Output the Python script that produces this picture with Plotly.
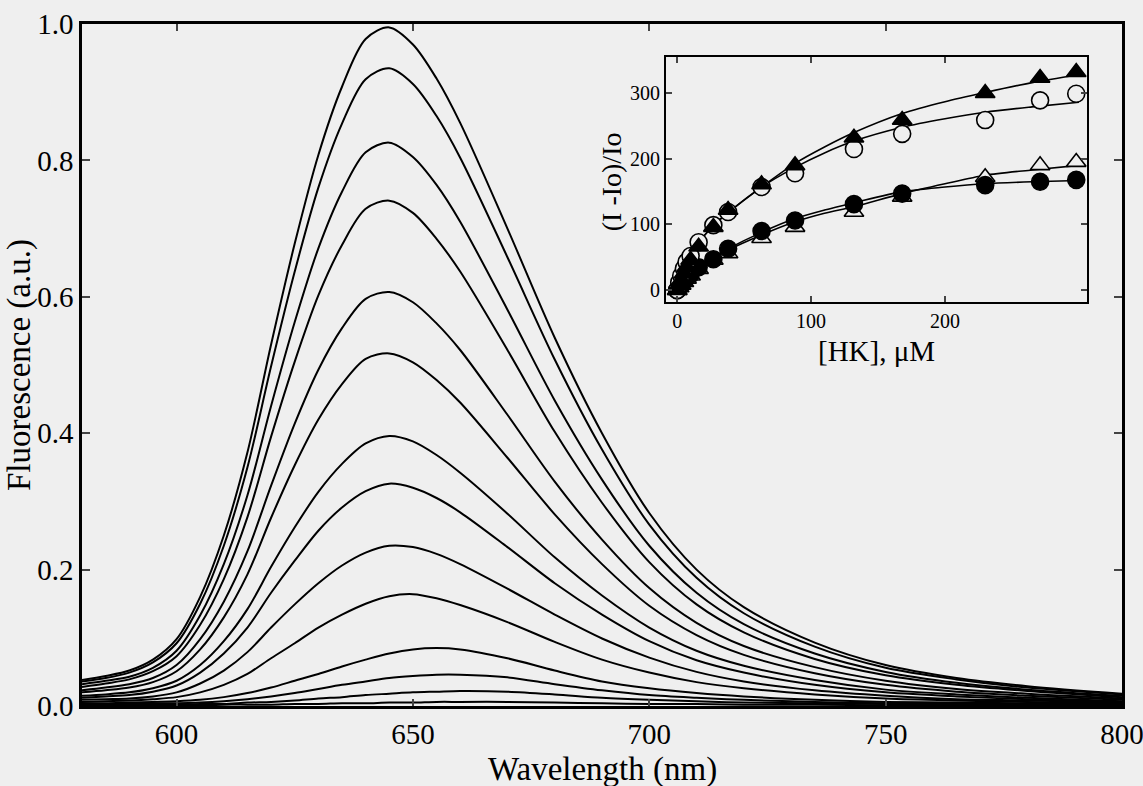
import plotly.graph_objects as go

# ---------------- main panel data: emission spectra ----------------
wavelength = [580, 585, 590, 595, 600, 605, 610, 615, 620, 625, 630, 635, 640, 645,
              650, 655, 660, 670, 680, 690, 700, 710, 720, 735, 750, 765, 780, 800]

spec_01 = [0.038, 0.044, 0.052, 0.068, 0.098, 0.160, 0.250, 0.372, 0.530, 0.678, 0.808, 0.908, 0.978, 0.995,
           0.970, 0.920, 0.855, 0.700, 0.540, 0.400, 0.283, 0.200, 0.145, 0.093, 0.060, 0.041, 0.029, 0.018]
spec_02 = [0.036, 0.041, 0.049, 0.064, 0.092, 0.150, 0.235, 0.350, 0.498, 0.637, 0.760, 0.854, 0.919, 0.935,
           0.912, 0.865, 0.804, 0.658, 0.508, 0.376, 0.266, 0.188, 0.136, 0.087, 0.056, 0.039, 0.027, 0.017]
spec_03 = [0.032, 0.037, 0.043, 0.056, 0.081, 0.133, 0.208, 0.309, 0.440, 0.563, 0.671, 0.754, 0.812, 0.826,
           0.805, 0.764, 0.710, 0.581, 0.448, 0.332, 0.235, 0.166, 0.120, 0.077, 0.050, 0.034, 0.024, 0.015]
spec_04 = [0.028, 0.033, 0.039, 0.051, 0.073, 0.119, 0.186, 0.277, 0.395, 0.505, 0.602, 0.676, 0.729, 0.741,
           0.723, 0.685, 0.637, 0.522, 0.402, 0.298, 0.211, 0.149, 0.108, 0.069, 0.045, 0.031, 0.022, 0.013]
spec_05 = [0.023, 0.027, 0.032, 0.041, 0.060, 0.098, 0.153, 0.227, 0.323, 0.414, 0.493, 0.554, 0.597, 0.607,
           0.592, 0.561, 0.522, 0.427, 0.329, 0.244, 0.173, 0.122, 0.088, 0.057, 0.037, 0.025, 0.018, 0.011]
spec_06 = [0.020, 0.023, 0.027, 0.035, 0.051, 0.083, 0.130, 0.193, 0.276, 0.353, 0.420, 0.472, 0.509, 0.517,
           0.504, 0.478, 0.445, 0.364, 0.281, 0.208, 0.147, 0.104, 0.075, 0.048, 0.031, 0.021, 0.015, 0.009]
spec_07 = [0.015, 0.017, 0.020, 0.026, 0.037, 0.060, 0.095, 0.142, 0.204, 0.262, 0.314, 0.355, 0.385, 0.396,
           0.388, 0.368, 0.342, 0.282, 0.218, 0.162, 0.115, 0.081, 0.059, 0.038, 0.024, 0.017, 0.012, 0.007]
spec_08 = [0.012, 0.014, 0.016, 0.021, 0.030, 0.049, 0.077, 0.115, 0.166, 0.213, 0.257, 0.291, 0.315, 0.326,
           0.320, 0.305, 0.284, 0.233, 0.180, 0.134, 0.095, 0.067, 0.049, 0.031, 0.020, 0.014, 0.010, 0.006]
spec_09 = [0.009, 0.010, 0.011, 0.014, 0.020, 0.033, 0.052, 0.079, 0.115, 0.149, 0.180, 0.206, 0.225, 0.235,
           0.233, 0.223, 0.208, 0.172, 0.134, 0.099, 0.071, 0.050, 0.036, 0.023, 0.015, 0.010, 0.008, 0.005]
spec_10 = [0.006, 0.007, 0.008, 0.010, 0.013, 0.020, 0.031, 0.047, 0.070, 0.092, 0.115, 0.134, 0.150, 0.161,
           0.164, 0.158, 0.148, 0.123, 0.094, 0.068, 0.049, 0.035, 0.026, 0.017, 0.011, 0.008, 0.006, 0.004]
spec_11 = [0.004, 0.004, 0.005, 0.006, 0.007, 0.009, 0.013, 0.019, 0.027, 0.037, 0.047, 0.058, 0.068, 0.077,
           0.083, 0.085, 0.083, 0.070, 0.052, 0.036, 0.026, 0.019, 0.014, 0.009, 0.006, 0.005, 0.004, 0.003]
spec_12 = [0.003, 0.003, 0.003, 0.004, 0.004, 0.005, 0.007, 0.010, 0.014, 0.019, 0.025, 0.031, 0.036, 0.041,
           0.044, 0.046, 0.046, 0.042, 0.032, 0.023, 0.016, 0.012, 0.009, 0.006, 0.004, 0.003, 0.003, 0.002]
spec_13 = [0.002, 0.002, 0.002, 0.002, 0.002, 0.003, 0.003, 0.005, 0.006, 0.008, 0.011, 0.013, 0.016, 0.018,
           0.020, 0.021, 0.022, 0.021, 0.017, 0.012, 0.009, 0.007, 0.005, 0.004, 0.003, 0.002, 0.002, 0.002]
spec_14 = [0.001, 0.001, 0.001, 0.001, 0.001, 0.001, 0.002, 0.002, 0.002, 0.003, 0.003, 0.004, 0.004, 0.005,
           0.005, 0.006, 0.006, 0.006, 0.005, 0.004, 0.003, 0.003, 0.002, 0.002, 0.001, 0.001, 0.001, 0.001]

spectra = [spec_01, spec_02, spec_03, spec_04, spec_05, spec_06, spec_07,
           spec_08, spec_09, spec_10, spec_11, spec_12, spec_13, spec_14]

main_xticks = [600, 650, 700, 750, 800]
main_yticks = [0.0, 0.2, 0.4, 0.6, 0.8, 1.0]
main_yticktext = ["0.0", "0.2", "0.4", "0.6", "0.8", "1.0"]

# ---------------- inset data: titration ----------------
hk_conc = [0, 1.5, 3, 5, 7, 10, 16, 27, 38, 63, 88, 132, 168, 230, 271, 298]
filled_tri = [0, 8, 15, 25, 35, 46, 66, 96, 122, 161, 190, 232, 259, 300, 323, 332]
open_circ = [0, 12, 22, 33, 43, 52, 73, 99, 119, 157, 178, 215, 238, 259, 289, 299]
open_tri = [0, 4, 8, 12, 17, 22, 32, 46, 56, 79, 96, 119, 142, 172, 190, 195]
filled_circ = [0, 5, 9, 14, 19, 24, 35, 47, 63, 90, 106, 131, 147, 160, 165, 168]

fit_x = [0, 5, 10, 16, 27, 38, 63, 88, 110, 132, 168, 200, 230, 265, 300]
fit_filled_tri = [0, 30, 50, 72, 98, 118, 157, 193, 218, 240, 269, 287, 301, 316, 328]
fit_open_circ = [0, 30, 50, 72, 98, 118, 157, 187, 209, 227, 248, 261, 271, 279, 286]
fit_open_tri = [0, 12, 22, 33, 48, 61, 84, 104, 117, 127, 147, 162, 175, 183, 190]
fit_filled_circ = [0, 13, 24, 35, 50, 63, 88, 109, 122, 133, 150, 157, 162, 165, 167]

inset_xticks = [0, 100, 200]
inset_yticks = [0, 100, 200, 300]

FONT = "Liberation Serif"
BG = "#efefef"

fig = go.Figure()

for s in spectra:
    fig.add_trace(go.Scatter(x=wavelength, y=s, mode="lines",
                             line=dict(color="black", width=2, shape="spline", smoothing=0.9),
                             xaxis="x", yaxis="y", showlegend=False, hoverinfo="skip"))

for fy in [fit_filled_tri, fit_open_circ, fit_open_tri, fit_filled_circ]:
    fig.add_trace(go.Scatter(x=fit_x, y=fy, mode="lines",
                             line=dict(color="black", width=1.6, shape="spline", smoothing=0.8),
                             xaxis="x3", yaxis="y3", showlegend=False))

marker_specs = [
    (open_tri, "triangle-up", BG),
    (filled_circ, "circle", "black"),
    (open_circ, "circle", BG),
    (filled_tri, "triangle-up", "black"),
]
for vals, sym, fill in marker_specs:
    fig.add_trace(go.Scatter(x=hk_conc, y=vals, mode="markers",
                             marker=dict(symbol=sym, size=17, color=fill,
                                         line=dict(color="black", width=1.6)),
                             xaxis="x3", yaxis="y3", showlegend=False))

tickfont_main = dict(family=FONT, size=29, color="black")
tickfont_inset = dict(family=FONT, size=20, color="black")

common = dict(showgrid=False, zeroline=False, automargin=False, showline=True,
              linecolor="black", ticklabeloverflow="allow")

fig.update_layout(
    width=1143, height=786,
    margin=dict(l=82, r=21, t=24, b=80),
    paper_bgcolor=BG, plot_bgcolor=BG,
    font=dict(family=FONT, color="black"),
    xaxis=dict(domain=[0, 1], range=[580, 800], tickvals=main_xticks,
               ticks="inside", ticklen=7, tickwidth=2, linewidth=2.5, mirror="ticks",
               tickfont=tickfont_main, **common),
    yaxis=dict(domain=[0, 1], range=[0, 1.0], tickvals=main_yticks, ticktext=main_yticktext,
               ticks="inside", ticklen=8, tickwidth=2, linewidth=2.5, mirror="ticks",
               tickfont=tickfont_main, **common),
    xaxis3=dict(domain=[0.5615, 0.9663], anchor="y3", range=[-8.4, 306], tickvals=inset_xticks,
                ticks="inside", ticklen=6, tickwidth=1.5, linewidth=2, mirror="ticks",
                tickfont=tickfont_inset, **common),
    yaxis3=dict(domain=[0.5924, 0.9516], anchor="x3", range=[-18, 355], tickvals=inset_yticks,
                ticks="inside", ticklen=6, tickwidth=1.5, linewidth=2, mirror="ticks",
                tickfont=tickfont_inset, **common),
    annotations=[
        dict(text="Wavelength (nm)", xref="paper", yref="paper", x=0.5, y=0,
             xanchor="center", yanchor="middle", yshift=-63, showarrow=False,
             font=dict(family=FONT, size=33, color="black")),
        dict(text="Fluorescence (a.u.)", xref="paper", yref="paper", x=0, y=0.5,
             xanchor="center", yanchor="middle", xshift=-63, textangle=-90, showarrow=False,
             font=dict(family=FONT, size=33, color="black")),
        dict(text="[HK], μM", xref="paper", yref="paper", x=0.764, y=0.52,
             xanchor="center", yanchor="middle", showarrow=False,
             font=dict(family=FONT, size=29, color="black")),
        dict(text="(I -Io)/Io", xref="paper", yref="paper", x=0.5087, y=0.768,
             xanchor="center", yanchor="middle", textangle=-90, showarrow=False,
             font=dict(family=FONT, size=28, color="black")),
    ],
)

fig.write_html("out.html")
